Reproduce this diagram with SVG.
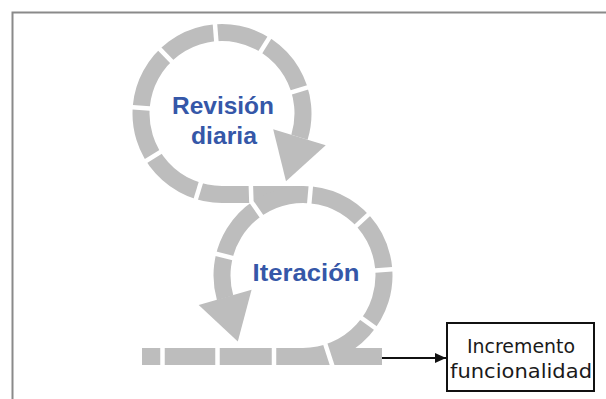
<svg xmlns="http://www.w3.org/2000/svg" width="606" height="399" viewBox="0 0 606 399">
  <defs>
    <style>
      .ring { fill: none; stroke: #bdbdbd; stroke-width: 17; stroke-linecap: butt; }
      .head { fill: #bdbdbd; stroke: none; }
      .cut { fill: none; stroke: #ffffff; stroke-width: 4.5; stroke-linecap: butt; }
      .loop-label { font-family: "Liberation Sans", Arial, sans-serif; font-weight: bold; font-size: 24px; fill: #3557a8; text-anchor: middle; }
      .box-label { font-family: "DejaVu Sans", Verdana, sans-serif; font-size: 20px; fill: #1a1a1a; text-anchor: middle; }
    </style>
    <marker id="arrow" markerUnits="userSpaceOnUse" markerWidth="12" markerHeight="10" refX="11" refY="5" orient="auto">
      <path d="M0,0 L11,5 L0,10 z" fill="#111"/>
    </marker>
  </defs>
  <rect width="606" height="399" fill="#ffffff"/>
  <path d="M12.5,399 V12.5 H606" fill="none" stroke="#8a8a8a" stroke-width="2"/>

  <g id="loop-revision">
    <path class="ring" d="M222,194.5 A81,81 0 1 1 299.46,137.18"/>
    <path class="ring" d="M222,194.5 H304"/>
    <polygon class="head" points="325.75,145.22 273.17,129.14 286.0,181.2"/>
    <line class="cut" x1="201.83" y1="179.48" x2="194.81" y2="202.44"/>
    <line class="cut" x1="163.48" y1="150.06" x2="143.13" y2="162.78"/>
    <line class="cut" x1="153.17" y1="108.69" x2="129.23" y2="107.01"/>
    <line class="cut" x1="174.07" y1="63.87" x2="157.40" y2="46.60"/>
    <line class="cut" x1="216.59" y1="44.71" x2="214.70" y2="20.79"/>
    <line class="cut" x1="258.56" y1="55.00" x2="271.28" y2="34.63"/>
    <line class="cut" x1="287.98" y1="93.33" x2="310.94" y2="86.31"/>
    <text class="loop-label" x="223" y="114" textLength="102" lengthAdjust="spacingAndGlyphs">Revisión</text>
    <text class="loop-label" x="224" y="144" textLength="66" lengthAdjust="spacingAndGlyphs">diaria</text>
  </g>

  <g id="loop-iteracion">
    <path class="ring" d="M303,356.5 A81,81 0 1 0 225.14,297.83"/>
    <path class="ring" d="M142,356.5 H382"/>
    <polygon class="head" points="198.70,304.91 251.58,289.75 237.82,341.55"/>
    <line class="cut" x1="236.05" y1="258.81" x2="212.76" y2="253.00"/>
    <polyline class="cut" points="263.42,218.98 251.38,201.78 250.8,184"/>
    <line class="cut" x1="309.01" y1="206.76" x2="311.11" y2="182.85"/>
    <line class="cut" x1="353.46" y1="228.44" x2="371.02" y2="212.07"/>
    <line class="cut" x1="371.83" y1="270.69" x2="395.77" y2="269.01"/>
    <line class="cut" x1="358.82" y1="316.06" x2="378.24" y2="330.16"/>
    <line class="cut" x1="324.32" y1="341.12" x2="332.67" y2="366.8"/>
    <line class="cut" x1="162.5" y1="344" x2="162.5" y2="369"/>
    <line class="cut" x1="217.5" y1="344" x2="217.5" y2="369"/>
    <line class="cut" x1="274" y1="344" x2="274" y2="369"/>
    <text class="loop-label" x="306" y="281" textLength="107" lengthAdjust="spacingAndGlyphs">Iteración</text>
  </g>

  <g id="node-incremento">
    <rect x="447" y="323" width="147" height="68" fill="#ffffff" stroke="#111" stroke-width="2"/>
    <text class="box-label" x="521" y="353" textLength="108" lengthAdjust="spacingAndGlyphs">Incremento</text>
    <text class="box-label" x="521" y="378" textLength="142" lengthAdjust="spacingAndGlyphs">funcionalidad</text>
  </g>

  <g id="connectors">
    <line x1="382" y1="358" x2="446" y2="358" stroke="#111" stroke-width="2" marker-end="url(#arrow)"/>
  </g>
</svg>
